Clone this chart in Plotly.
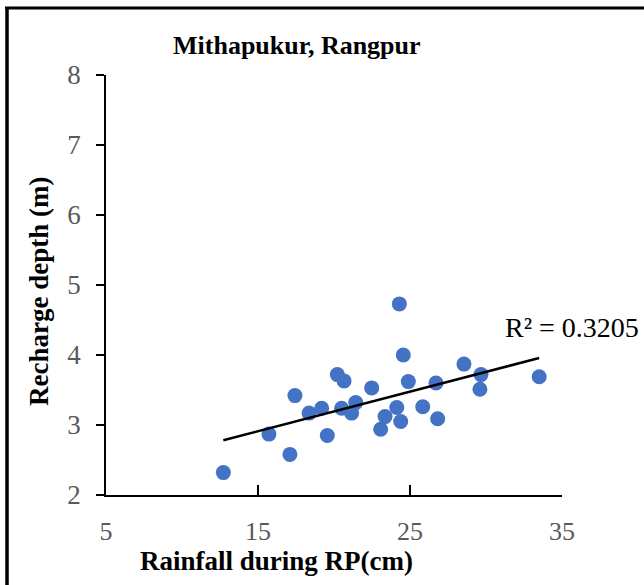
import numpy as np
import plotly.graph_objects as go

# Data
rainfall_cm = [12.72, 15.72, 17.10, 17.43, 18.36, 19.19, 19.56, 20.22, 20.66, 20.50,
               21.43, 21.16, 22.48, 23.07, 23.36, 24.30, 24.56, 24.89, 26.71, 25.84,
               26.82, 24.13, 24.39, 28.55, 29.67, 29.60, 33.50]
recharge_m = [2.32, 2.87, 2.58, 3.42, 3.17, 3.24, 2.85, 3.72, 3.63, 3.24,
              3.32, 3.17, 3.53, 2.94, 3.12, 4.73, 4.00, 3.62, 3.60, 3.26,
              3.09, 3.25, 3.05, 3.87, 3.72, 3.51, 3.69]
x_ticks = [5, 15, 25, 35]
y_ticks = [2, 3, 4, 5, 6, 7, 8]
r2_label = "R² = 0.3205"

xs = np.array(rainfall_cm)
ys = np.array(recharge_m)
slope, intercept = np.polyfit(xs, ys, 1)
trend_x = [xs.min(), xs.max()]
trend_y = [slope * v + intercept for v in trend_x]

SERIF = "Liberation Serif"

fig = go.Figure()
fig.add_trace(go.Scatter(x=rainfall_cm, y=recharge_m, mode="markers",
                         marker=dict(color="#4472C4", size=15, line=dict(width=0)),
                         showlegend=False, cliponaxis=False))
fig.add_trace(go.Scatter(x=trend_x, y=trend_y, mode="lines",
                         line=dict(color="black", width=2.5), showlegend=False))

W, H = 644, 585
L, R, T, B = 106, 82, 75, 90
pw, ph = W - L - R, H - T - B

def px(xp):
    return (xp - L) / pw

def py(yp):
    return (H - B - yp) / ph

fig.update_layout(
    width=W, height=H, autosize=False,
    margin=dict(l=L, r=R, t=T, b=B),
    paper_bgcolor="white", plot_bgcolor="white",
    font=dict(family=SERIF),
    xaxis=dict(range=[5, 35], tickvals=x_ticks, showgrid=False, zeroline=False,
               showline=True, linecolor="black", linewidth=1.5,
               ticks="inside", ticklen=10, tickcolor="black", tickwidth=1.5,
               tickfont=dict(family=SERIF, size=26, color="#595959"),
               ticklabelstandoff=12),
    yaxis=dict(range=[2, 8], tickvals=y_ticks, showgrid=False, zeroline=False,
               showline=True, linecolor="black", linewidth=1.5,
               ticks="outside", ticklen=8, tickcolor="black", tickwidth=1.5,
               tickfont=dict(family=SERIF, size=27, color="#595959"),
               ticklabelstandoff=10),
    annotations=[
        dict(text="<b>Mithapukur, Rangpur</b>", xref="paper", yref="paper",
             x=px(297), y=py(45), xanchor="center", yanchor="middle", showarrow=False,
             font=dict(family=SERIF, size=26, color="black")),
        dict(text="<b>Rainfall during RP(cm)</b>", xref="paper", yref="paper",
             x=px(276), y=py(561), xanchor="center", yanchor="middle", showarrow=False,
             font=dict(family=SERIF, size=27, color="black")),
        dict(text="<b>Recharge depth (m)</b>", xref="paper", yref="paper",
             x=px(39), y=py(292), xanchor="center", yanchor="middle", showarrow=False,
             textangle=-90, font=dict(family=SERIF, size=27, color="black")),
        dict(text=r2_label, xref="x", yref="y", x=31.1, y=4.4,
             xanchor="left", yanchor="middle", showarrow=False,
             font=dict(family=SERIF, size=28, color="black")),
    ],
    shapes=[
        dict(type="line", xref="paper", yref="paper", x0=px(7), x1=px(7),
             y0=py(7), y1=py(H + 10), line=dict(color="black", width=3.5)),
        dict(type="line", xref="paper", yref="paper", x0=px(5), x1=px(W + 10),
             y0=py(8), y1=py(8), line=dict(color="black", width=3)),
    ],
)

fig.write_html("out.html")
